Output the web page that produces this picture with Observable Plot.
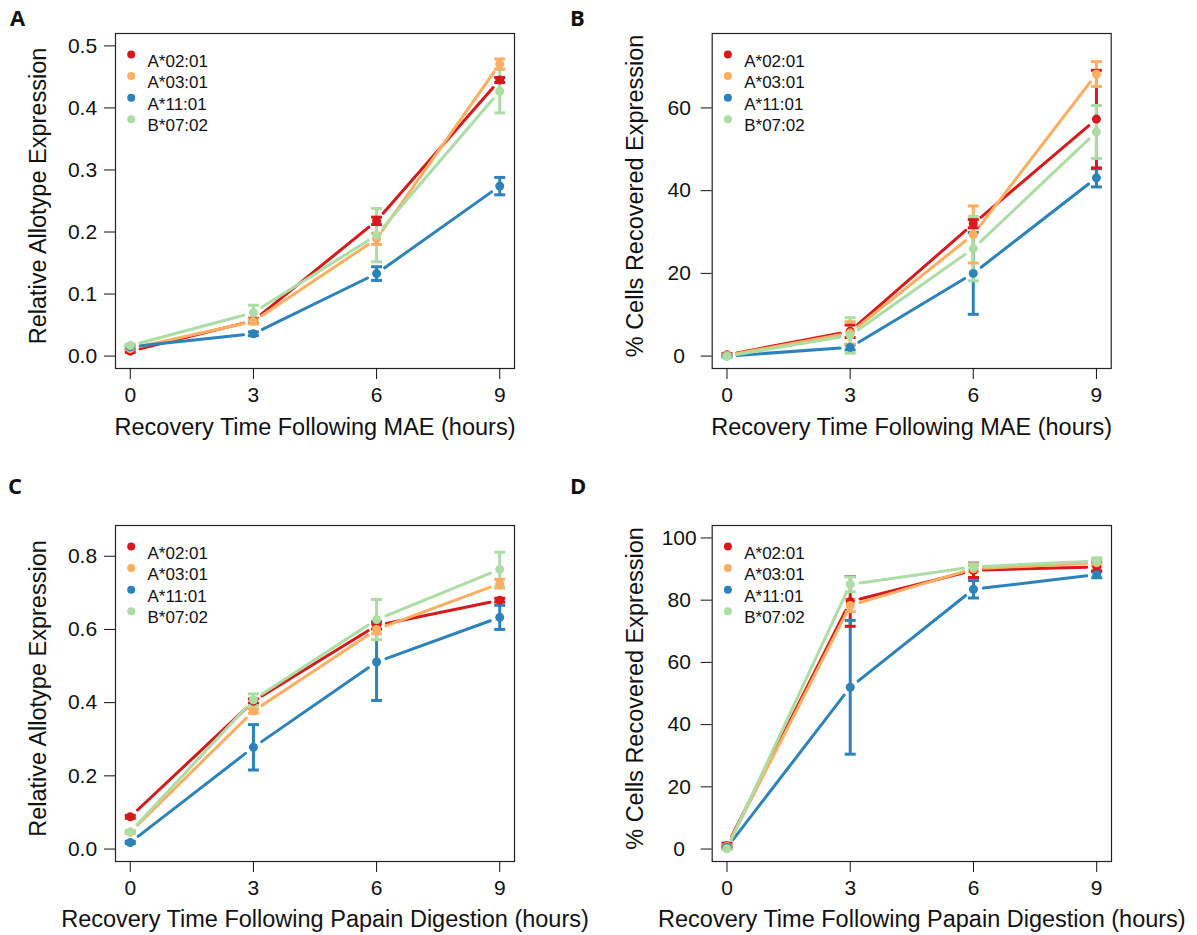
<!DOCTYPE html>
<html>
<head>
<meta charset="utf-8">
<script src="https://cdn.jsdelivr.net/npm/d3@7"></script>
<script src="https://cdn.jsdelivr.net/npm/@observablehq/plot@0.6"></script>
<style>
  body { margin: 0; background: #fff; }
  #wrap { position: relative; width: 1197px; height: 935px; background: #fff; overflow: hidden; }
  .panel { position: absolute; }
  #letters { position: absolute; left: 0; top: 0; }
</style>
</head>
<body>
<div id="wrap"></div>
<script>
// ---------------- data ----------------
const hours = [0, 3, 6, 9];
const allotypes = ["A*02:01", "A*03:01", "A*11:01", "B*07:02"];
const palette = ["#d7191c", "#fdae61", "#2b83ba", "#abdda4"];

// Panel A: relative allotype expression after MAE (rows follow allotypes)
const maeRelMean = [
  [0.008, 0.057, 0.218, 0.445],
  [0.012, 0.056, 0.189, 0.471],
  [0.015, 0.036, 0.133, 0.274],
  [0.017, 0.070, 0.195, 0.427]
];
const maeRelErr = [
  [0.002, 0.004, 0.006, 0.004],
  [0.002, 0.004, 0.009, 0.008],
  [0.002, 0.003, 0.011, 0.014],
  [0.002, 0.012, 0.043, 0.035]
];
// Panel B: % cells recovered expression after MAE
const maePctMean = [
  [0.3, 6.0, 32.0, 57.3],
  [0.2, 5.6, 29.4, 68.2],
  [0.0, 2.1, 20.0, 43.1],
  [0.0, 5.0, 26.0, 54.2]
];
const maePctErr = [
  [0.3, 1.5, 1.0, 11.8],
  [0.2, 2.7, 6.9, 3.0],
  [0.2, 0.6, 9.9, 2.2],
  [0.2, 4.3, 7.8, 6.4]
];
// Panel C: relative allotype expression after papain digestion
const papRelMean = [
  [0.088, 0.404, 0.611, 0.680],
  [0.046, 0.377, 0.600, 0.725],
  [0.018, 0.278, 0.511, 0.633],
  [0.047, 0.408, 0.627, 0.764]
];
const papRelErr = [
  [0.004, 0.006, 0.010, 0.005],
  [0.003, 0.006, 0.012, 0.012],
  [0.003, 0.062, 0.105, 0.033],
  [0.003, 0.016, 0.055, 0.047]
];
// Panel D: % cells recovered expression after papain digestion
const papPctMean = [
  [1.1, 79.6, 89.6, 90.7],
  [0.8, 78.3, 90.1, 92.0],
  [0.5, 52.0, 83.5, 88.2],
  [0.1, 85.1, 90.7, 92.6]
];
const papPctErr = [
  [0.8, 8.0, 2.3, 1.3],
  [0.5, 2.0, 1.0, 1.0],
  [0.3, 21.5, 2.8, 1.0],
  [0.3, 2.4, 1.0, 1.0]
];

const relTicksMAE = [0, 0.1, 0.2, 0.3, 0.4, 0.5];
const pctTicksMAE = [0, 20, 40, 60];
const relTicksPap = [0, 0.2, 0.4, 0.6, 0.8];
const pctTicksPap = [0, 20, 40, 60, 80, 100];

const xLabelMAE = "Recovery Time Following MAE (hours)";
const xLabelPap = "Recovery Time Following Papain Digestion (hours)";
const yLabelRel = "Relative Allotype Expression";
const yLabelPct = "% Cells Recovered Expression";
const panelLetters = ["A", "B", "C", "D"];

// ---------------- drawing ----------------
const FONT = "'Liberation Sans', Arial, Helvetica, sans-serif";
const capSymbol = {
  draw(ctx, size) {
    const w = Math.sqrt(size / Math.PI);
    ctx.moveTo(-w, 0);
    ctx.lineTo(w, 0);
  }
};

function makePanel(cfg) {
  const rows = [], segs = [];
  allotypes.forEach((a, s) => {
    hours.forEach((h, k) => {
      const m = cfg.mean[s][k], e = cfg.err[s][k];
      rows.push({allotype: a, hour: h, value: m, lo: m - e, hi: m + e});
      if (k > 0) segs.push({allotype: a, x1: hours[k - 1], y1: cfg.mean[s][k - 1], x2: h, y2: m});
    });
  });
  const legendMarks = allotypes.flatMap((a, i) => [
    Plot.dot([a], {frameAnchor: "top-left", dx: 15.7, dy: 21 + i * 21.6, r: 4, fill: palette[i], stroke: "none"}),
    Plot.text([a], {frameAnchor: "top-left", dx: 32, dy: 21 + i * 21.6, text: d => d, textAnchor: "start", fontSize: 17, fill: "#111"})
  ]);
  const svg = Plot.plot({
    width: cfg.w, height: cfg.h,
    marginTop: cfg.m[0], marginRight: cfg.m[1], marginBottom: cfg.m[2], marginLeft: cfg.m[3],
    style: {fontFamily: FONT, fontSize: "21px", background: "white", color: "#111", overflow: "visible"},
    x: {domain: [-0.36, 9.36]},
    y: {domain: cfg.yDomain},
    color: {domain: allotypes, range: palette},
    marks: [
      Plot.frame({stroke: "#222", strokeWidth: 1.2}),
      Plot.axisX({ticks: hours, tickSize: 11, tickPadding: 8, fontSize: 21, label: null, tickFormat: d3.format("d")}),
      Plot.axisY({ticks: cfg.yTicks, tickSize: 11, tickPadding: 22, textAnchor: "middle", fontSize: 21, label: null, tickFormat: d3.format(cfg.fmt)}),
      Plot.text([cfg.xLabel], {frameAnchor: "bottom", dy: cfg.xdy, dx: cfg.xdx, text: d => d, fontSize: 23.5, textAnchor: "middle", lineAnchor: "middle"}),
      Plot.text([cfg.yLabel], {frameAnchor: "left", dx: -77, dy: -5, rotate: -90, text: d => d, fontSize: 23.5, textAnchor: "middle", lineAnchor: "middle"}),
      Plot.link(segs, {x1: "x1", y1: "y1", x2: "x2", y2: "y2", stroke: "allotype", strokeWidth: 3, strokeLinecap: "round"}),
      Plot.ruleX(rows, {x: "hour", y1: "lo", y2: "hi", stroke: "allotype", strokeWidth: 3}),
      Plot.dot(rows, {x: "hour", y: "hi", symbol: capSymbol, r: 5.5, stroke: "allotype", strokeWidth: 3, fill: "none"}),
      Plot.dot(rows, {x: "hour", y: "lo", symbol: capSymbol, r: 5.5, stroke: "allotype", strokeWidth: 3, fill: "none"}),
      Plot.dot(rows, {x: "hour", y: "value", r: 4.5, fill: "allotype", stroke: "none"}),
      ...legendMarks
    ]
  });
  // R type="b": leave a small gap between each line segment and the points
  const gap = 10;
  svg.querySelectorAll('g[aria-label="link"] path').forEach(p => {
    const n = (p.getAttribute("d").match(/-?\d*\.?\d+(?:e-?\d+)?/g) || []).map(Number);
    if (n.length < 4) return;
    const [x1, y1, x2, y2] = n;
    const L = Math.hypot(x2 - x1, y2 - y1);
    if (L <= 2 * gap) return;
    const ux = (x2 - x1) / L, uy = (y2 - y1) / L;
    p.setAttribute("d", `M${x1 + ux * gap},${y1 + uy * gap}L${x2 - ux * gap},${y2 - uy * gap}`);
  });
  return svg;
}

const panels = [
  {left: 0, top: 0, w: 598, h: 467, m: [33, 84, 99, 115], mean: maeRelMean, err: maeRelErr,
   yDomain: [-0.02, 0.52], yTicks: relTicksMAE, fmt: ".1f", xLabel: xLabelMAE, yLabel: yLabelRel, xdy: 58.5, xdx: 0},
  {left: 598, top: 0, w: 599, h: 467, m: [33, 86.3, 99, 113.7], mean: maePctMean, err: maePctErr,
   yDomain: [-3, 78], yTicks: pctTicksMAE, fmt: "d", xLabel: xLabelMAE, yLabel: yLabelPct, xdy: 58.5, xdx: 0},
  {left: 0, top: 467, w: 598, h: 468, m: [58, 84, 74, 115], mean: papRelMean, err: papRelErr,
   yDomain: [-0.034, 0.884], yTicks: relTicksPap, fmt: ".1f", xLabel: xLabelPap, yLabel: yLabelRel, xdy: 58, xdx: 10},
  {left: 598, top: 467, w: 599, h: 468, m: [58, 86, 74, 113.7], mean: papPctMean, err: papPctErr,
   yDomain: [-4, 104], yTicks: pctTicksPap, fmt: "d", xLabel: xLabelPap, yLabel: yLabelPct, xdy: 58, xdx: 10}
];

const wrap = document.getElementById("wrap");
panels.forEach(cfg => {
  const div = document.createElement("div");
  div.className = "panel";
  div.style.left = cfg.left + "px";
  div.style.top = cfg.top + "px";
  div.appendChild(makePanel(cfg));
  wrap.appendChild(div);
});

// panel letters
const letterPos = [[10, 26], [570, 26], [8, 494], [570, 494]];
const ns = "http://www.w3.org/2000/svg";
const ov = document.createElementNS(ns, "svg");
ov.setAttribute("id", "letters");
ov.setAttribute("width", 1197);
ov.setAttribute("height", 935);
ov.style.pointerEvents = "none";
panelLetters.forEach((t, i) => {
  const el = document.createElementNS(ns, "text");
  el.setAttribute("x", letterPos[i][0]);
  el.setAttribute("y", letterPos[i][1]);
  el.setAttribute("font-family", "'Open Sans', 'Noto Sans', sans-serif");
  el.setAttribute("font-weight", "700");
  el.setAttribute("font-size", "22");
  el.setAttribute("fill", "#111");
  el.textContent = t;
  ov.appendChild(el);
});
wrap.appendChild(ov);
</script>
</body>
</html>
